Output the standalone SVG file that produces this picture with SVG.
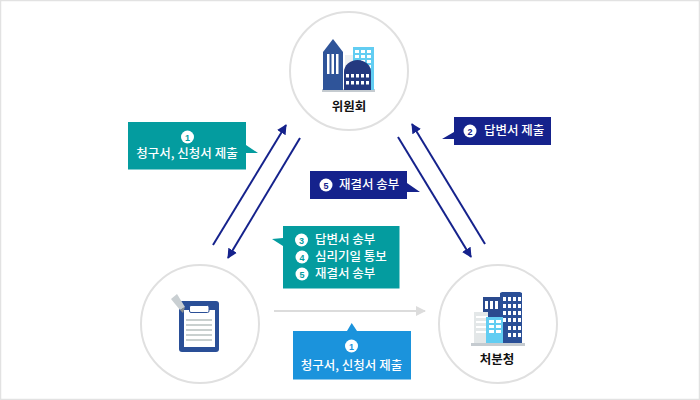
<svg xmlns="http://www.w3.org/2000/svg" width="700" height="400" viewBox="0 0 700 400">
<style>
.ring{fill:#fff;stroke:#e0e0e0;stroke-width:2}
.lab{font-family:"Noto Sans CJK KR","Noto Sans",sans-serif;font-size:12.500px;font-weight:700;fill:#111;text-anchor:middle}
.t{font-family:"Noto Sans CJK KR","Noto Sans",sans-serif;font-size:12.500px;font-weight:500;fill:#fff}
.m{text-anchor:middle}
.n{font-family:"Liberation Sans",sans-serif;font-size:9px;font-weight:700;text-anchor:middle}
.conn{stroke:#15228c;stroke-width:2;fill:none}
.w{fill:#fff}
</style>
<defs>
<marker id="ah" markerUnits="userSpaceOnUse" markerWidth="12" markerHeight="12" refX="9" refY="5" orient="auto"><path d="M0 0L10 5L0 10Z" fill="#15228c"/></marker>
<marker id="ag" markerUnits="userSpaceOnUse" markerWidth="12" markerHeight="12" refX="9" refY="5" orient="auto"><path d="M0 0L10 5L0 10Z" fill="#dcdcdc"/></marker>
</defs>
<rect width="700" height="400" fill="#fff"/>
<rect x="0.500" y="0.500" width="699" height="399" fill="none" stroke="#e2e2e2" stroke-width="1.500"/>
<g id="connectors">
<line class="conn" x1="213" y1="245" x2="286" y2="125" marker-end="url(#ah)"/>
<line class="conn" x1="300" y1="138" x2="228" y2="258" marker-end="url(#ah)"/>
<line class="conn" x1="485" y1="244" x2="412" y2="124" marker-end="url(#ah)"/>
<line class="conn" x1="398" y1="137" x2="471" y2="257" marker-end="url(#ah)"/>
<line x1="274" y1="311" x2="425" y2="311" stroke="#dcdcdc" stroke-width="2" marker-end="url(#ag)"/>
</g>
<g id="node-committee">
<circle class="ring" cx="349" cy="71" r="59"/>
<rect x="322" y="89" width="53" height="3" fill="#c5cbd0"/>
<rect x="345" y="55" width="14" height="35" fill="#eef0f2"/>
<rect x="353" y="47" width="21" height="43" fill="#62cdf2"/>
<g class="w"><rect x="355" y="50" width="4" height="3"/><rect x="361" y="50" width="4" height="3"/><rect x="367" y="50" width="4" height="3"/><rect x="355" y="55" width="4" height="3"/><rect x="361" y="55" width="4" height="3"/><rect x="367" y="55" width="4" height="3"/><rect x="361" y="60" width="4" height="3"/><rect x="367" y="60" width="4" height="3"/><rect x="367" y="65" width="4" height="3"/><rect x="367" y="70" width="4" height="3"/></g>
<path d="M323 90V52L333 39L343 52V90Z" fill="#2f5499"/>
<g class="w"><rect x="327" y="54" width="2.500" height="20"/><rect x="331.500" y="54" width="2.500" height="20"/><rect x="336" y="54" width="2.500" height="20"/></g>
<path d="M344 90V72a13.500 12 0 0 1 27 0V90Z" fill="#24397f"/>
<g class="w"><rect x="346" y="74" width="3" height="3.500"/><rect x="351" y="74" width="3" height="3.500"/><rect x="356" y="74" width="3" height="3.500"/><rect x="361" y="74" width="3" height="3.500"/><rect x="366" y="74" width="3" height="3.500"/><rect x="346" y="81" width="3" height="3.500"/><rect x="351" y="81" width="3" height="3.500"/><rect x="356" y="81" width="3" height="3.500"/><rect x="361" y="81" width="3" height="3.500"/><rect x="366" y="81" width="3" height="3.500"/></g>
<text class="lab" x="349" y="111">위원회</text>
</g>
<g id="node-applicant">
<circle class="ring" cx="200" cy="324" r="59"/>
<rect x="179" y="301" width="40" height="51" rx="3" fill="#2a4f97"/>
<rect x="184" y="310" width="31" height="37" fill="#fff"/>
<g fill="#c9d0cf"><rect x="186" y="319" width="26" height="2"/><rect x="186" y="324" width="26" height="2"/><rect x="186" y="329" width="26" height="2"/><rect x="186" y="334" width="26" height="2"/><rect x="186" y="339" width="26" height="2"/></g>
<rect x="189.500" y="305.500" width="19.500" height="7" rx="1.500" fill="#fff" stroke="#2a4f97"/>
<path d="M171 299L177 294L185 307L180 310Z" fill="#c9cfd2"/>
<path d="M180 310L185 307L183 313Z" fill="#8a8f90"/>
</g>
<g id="node-agency">
<circle class="ring" cx="498" cy="324" r="59"/>
<rect x="471" y="343" width="54" height="3" fill="#c5cbd0"/>
<rect x="483" y="297" width="17" height="26" fill="#2a4a8e"/>
<g class="w"><rect x="485" y="301" width="3" height="8"/><rect x="490" y="301" width="3" height="8"/><rect x="495" y="301" width="3" height="8"/></g>
<path d="M500 293L502 292H520L522 293V343H500Z" fill="#2a4f97"/>
<g class="w"><rect x="503" y="297" width="3" height="4"/><rect x="508" y="297" width="3" height="4"/><rect x="513" y="297" width="3" height="4"/><rect x="518" y="297" width="3" height="4"/><rect x="503" y="304" width="3" height="4"/><rect x="508" y="304" width="3" height="4"/><rect x="513" y="304" width="3" height="4"/><rect x="518" y="304" width="3" height="4"/><rect x="503" y="311" width="3" height="4"/><rect x="508" y="311" width="3" height="4"/><rect x="513" y="311" width="3" height="4"/><rect x="518" y="311" width="3" height="4"/><rect x="503" y="318" width="3" height="4"/><rect x="508" y="318" width="3" height="4"/><rect x="513" y="318" width="3" height="4"/><rect x="518" y="318" width="3" height="4"/><rect x="508" y="326" width="3" height="4"/><rect x="513" y="326" width="3" height="4"/><rect x="518" y="326" width="3" height="4"/><rect x="508" y="333" width="3" height="4"/><rect x="513" y="333" width="3" height="4"/><rect x="518" y="333" width="3" height="4"/></g>
<rect x="474" y="312" width="14" height="31" fill="#e3e7e8"/>
<g class="w"><rect x="476" y="316" width="12" height="2"/><rect x="476" y="321" width="12" height="2"/><rect x="476" y="326" width="12" height="2"/><rect x="476" y="331" width="12" height="2"/></g>
<rect x="486" y="317" width="17" height="26" fill="#62cdf2"/>
<g class="w"><rect x="489" y="320" width="5" height="3"/><rect x="496" y="320" width="5" height="3"/><rect x="489" y="325" width="5" height="3"/><rect x="496" y="325" width="5" height="3"/><rect x="489" y="330" width="5" height="3"/><rect x="496" y="330" width="5" height="3"/></g>
<text class="lab" x="497" y="364">처분청</text>
</g>
<g id="callout-1">
<path d="M128 122H246V145L258 153H246V169.500H128Z" fill="#049c9f"/>
<circle cx="187.500" cy="137" r="6.500" fill="#fff"/>
<text class="n" x="187.500" y="140.500" fill="#049c9f">1</text>
<text class="t m" x="187" y="158">청구서, 신청서 제출</text>
</g>
<g id="callout-2">
<path d="M454 117H551V145H454V139H442L454 132Z" fill="#15228c"/>
<circle cx="470" cy="131" r="6.500" fill="#fff"/>
<text class="n" x="470" y="134.500" fill="#15228c">2</text>
<text class="t" x="484" y="135">답변서 제출</text>
</g>
<g id="callout-5">
<path d="M310 171H407V183L420 192H407V199H310Z" fill="#15228c"/>
<circle cx="326" cy="185" r="6.500" fill="#fff"/>
<text class="n" x="326" y="188.500" fill="#15228c">5</text>
<text class="t" x="339" y="189">재결서 송부</text>
</g>
<g id="callout-345">
<path d="M283 226H399.500V288.500H283V246L272 239L283 238Z" fill="#049c9f"/>
<circle cx="301.500" cy="240" r="6.500" fill="#fff"/><text class="n" x="301.500" y="243.500" fill="#049c9f">3</text>
<circle cx="302" cy="257" r="6.500" fill="#fff"/><text class="n" x="302" y="260.500" fill="#049c9f">4</text>
<circle cx="302" cy="274" r="6.500" fill="#fff"/><text class="n" x="302" y="277.500" fill="#049c9f">5</text>
<text class="t" x="315" y="244">답변서 송부</text>
<text class="t" x="315" y="261">심리기일 통보</text>
<text class="t" x="315" y="278">재결서 송부</text>
</g>
<g id="callout-1b">
<path d="M293 331H347L351.700 323L357 331H411V379.500H293Z" fill="#1b93dc"/>
<circle cx="351.500" cy="346" r="6.500" fill="#fff"/>
<text class="n" x="351.500" y="349.500" fill="#1b93dc">1</text>
<text class="t m" x="351.500" y="370">청구서, 신청서 제출</text>
</g>
</svg>
